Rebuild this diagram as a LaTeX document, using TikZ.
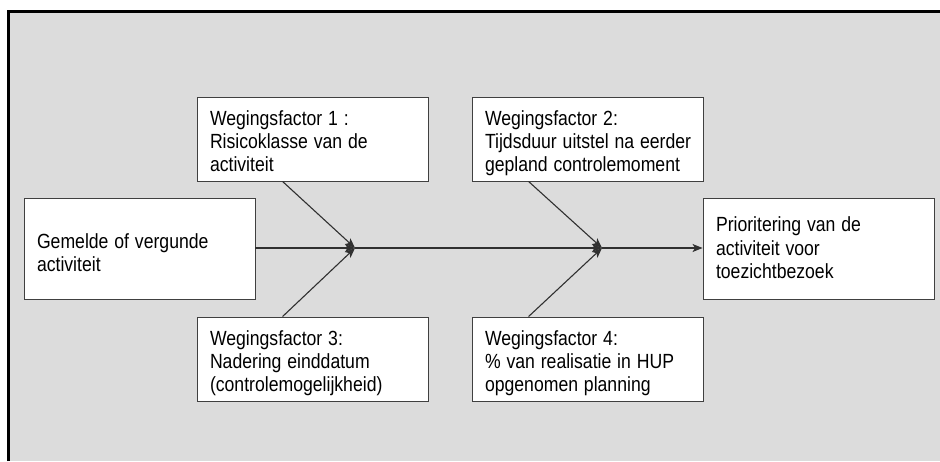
\documentclass[tikz,border=0pt]{standalone}
\usepackage{fontspec}
\setmainfont{Liberation Sans}
\usetikzlibrary{arrows.meta}
\definecolor{bggray}{HTML}{DCDCDC}
\definecolor{linegray}{HTML}{303030}
\newcommand{\boxtext}[2][0pt]{\raisebox{0pt}[\dimexpr\height+2\dimexpr#1\relax\relax]{\scalebox{0.86}[1]{\begin{tabular}{@{}l@{}}#2\end{tabular}}}}
\begin{document}
\begin{tikzpicture}[x=1pt,y=-1pt,
  box/.style={draw=black!75, line width=0.9pt, fill=white, inner xsep=13pt, inner ysep=0pt,
    align=left, font=\fontsize{20.5}{23.3}\selectfont, anchor=center},
  wbox/.style={box, text width=205pt, minimum width=231pt, minimum height=84pt},
  ebox/.style={box, text width=205pt, minimum width=231pt, minimum height=101pt},
  arr/.style={draw=linegray, line width=1.1pt, -{Stealth[length=10pt,width=8pt,inset=2.5pt]}}]
\useasboundingbox (0,0) rectangle (940,461);
\fill[white] (0,0) rectangle (940,461);
\fill[bggray] (8,11) rectangle (940,461);
\draw[black, line width=3pt] (8,461) -- (8,11) -- (940,11);

\node[ebox] (gem) at (139.5,248.5) {\boxtext[7pt]{Gemelde of vergunde\\activiteit}};
\node[wbox] (wf1) at (312.5,139) {\boxtext[5pt]{Wegingsfactor 1 :\\Risicoklasse van de\\activiteit}};
\node[wbox] (wf3) at (312.5,359) {\boxtext[5pt]{Wegingsfactor 3:\\Nadering einddatum\\(controlemogelijkheid)}};
\node[wbox] (wf2) at (587.5,139) {\boxtext[5pt]{Wegingsfactor 2:\\Tijdsduur uitstel na eerder\\gepland controlemoment}};
\node[wbox] (wf4) at (587.5,359) {\boxtext[5pt]{Wegingsfactor 4:\\\% van realisatie in HUP\\opgenomen planning}};
\node[ebox] (prio) at (818.5,248.5) {\boxtext[2pt]{Prioritering van de\\activiteit voor\\toezichtbezoek}};

\coordinate (j1) at (355,248);
\coordinate (j2) at (602,248);

\draw[arr] (gem.east |- j1) -- (j1);
\draw[arr] (j1) -- (j2);
\draw[arr] (j2) -- (prio.west |- j2);
\draw[arr] ([xshift=86pt]wf1.south west) -- (j1);
\draw[arr] ([xshift=86pt]wf3.north west) -- (j1);
\draw[arr] ([xshift=57pt]wf2.south west) -- (j2);
\draw[arr] ([xshift=57pt]wf4.north west) -- (j2);
\end{tikzpicture}
\end{document}
